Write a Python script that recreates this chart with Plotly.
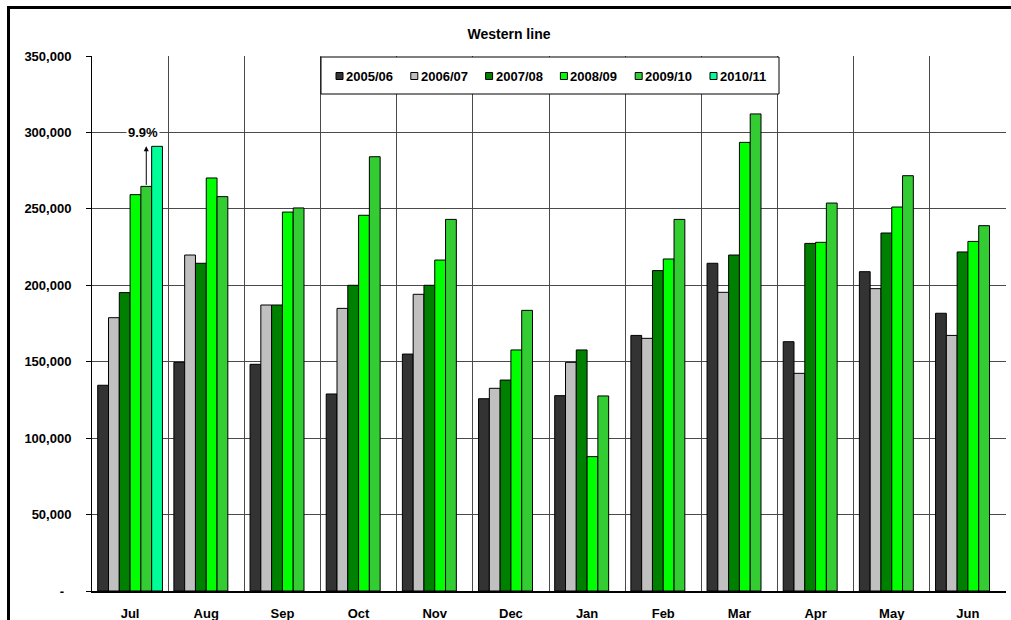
import plotly.graph_objects as go

# Monthly patronage, Western line
months = ["Jul", "Aug", "Sep", "Oct", "Nov", "Dec",
          "Jan", "Feb", "Mar", "Apr", "May", "Jun"]
seasons = ["2005/06", "2006/07", "2007/08", "2008/09", "2009/10", "2010/11"]

fy2005_06 = [134600, 149600, 148300, 128900, 155000, 125800,
             127800, 167200, 214400, 163100, 208900, 181700]
fy2006_07 = [178800, 219800, 187100, 184900, 194100, 132600,
             149600, 165300, 195400, 142400, 197800, 167200]
fy2007_08 = [195200, 214400, 187100, 200000, 200000, 138000,
             157700, 209600, 219800, 227400, 234200, 221800]
fy2008_09 = [259300, 270200, 247900, 245800, 216500, 157700,
             87900, 217200, 293500, 228100, 251200, 228700]
fy2009_10 = [264700, 258000, 250600, 284100, 243100, 183600,
             127600, 243100, 312100, 253800, 271700, 239000]
fy2010_11 = [290900, None, None, None, None, None,
             None, None, None, None, None, None]

y_tick_values = [0, 50000, 100000, 150000, 200000, 250000, 300000, 350000]
y_tick_labels = ["-\u00a0\u00a0" if v == 0 else f"{v:,}" for v in y_tick_values]

series = [fy2005_06, fy2006_07, fy2007_08, fy2008_09, fy2009_10, fy2010_11]
colors = ["#333333", "#C0C0C0", "#008000", "#00FF00", "#33CC33", "#00FF99"]

FONT = "Liberation Sans, Arial, sans-serif"
W, H = 1011, 620
L, T, R, B = 92, 56, 1006, 591   # plot area edges in pixels
BARGAP = 0.15
GRID = "#4a4a4a"


def px_x(x):
    return (x - L) / (R - L)


def px_y(y):
    return (B - y) / (B - T)


fig = go.Figure()
for name, vals, col in zip(seasons, series, colors):
    fig.add_bar(x=months, y=vals, name=name,
                marker=dict(color=col, line=dict(color="black", width=1)),
                showlegend=False)

# growth of the latest season over the previous one in July
prev_val, last_val = fy2009_10[0], fy2010_11[0]
growth = last_val / prev_val - 1
group_w = 1 - BARGAP
slot = group_w / len(seasons)
arrow_x = 0 - group_w / 2 + (4 + 0.5) * slot

annotations = [
    dict(x=arrow_x, y=last_val, ax=arrow_x, ay=prev_val,
         xref="x", yref="y", axref="x", ayref="y", text="",
         showarrow=True, arrowhead=2, arrowsize=1, arrowwidth=1,
         arrowcolor="black"),
    dict(x=arrow_x, y=300000, xref="x", yref="y", text=f"{growth:.1%}",
         showarrow=False, bgcolor="white", xshift=-3,
         font=dict(family=FONT, size=13, color="black", weight="bold")),
]

shapes = [
    # outer frame
    dict(type="rect", xref="paper", yref="paper",
         x0=px_x(8.5), x1=px_x(1040), y0=px_y(660), y1=px_y(7.5),
         line=dict(color="black", width=3), fillcolor="rgba(0,0,0,0)",
         layer="above"),
    # legend box
    dict(type="rect", xref="paper", yref="paper",
         x0=px_x(321), x1=px_x(779), y0=px_y(94), y1=px_y(57),
         line=dict(color="black", width=1), fillcolor="white",
         layer="above"),
]

step = 74.8
for i, (name, col) in enumerate(zip(seasons, colors)):
    mx = 336 + i * step
    shapes.append(dict(type="rect", xref="paper", yref="paper",
                       x0=px_x(mx), x1=px_x(mx + 7),
                       y0=px_y(79.5), y1=px_y(72.5),
                       line=dict(color="black", width=1), fillcolor=col,
                       layer="above"))
    annotations.append(dict(x=px_x(mx + 8), y=px_y(76), xref="paper",
                            yref="paper", xanchor="left", yanchor="middle",
                            text=name, showarrow=False,
                            font=dict(family=FONT, size=13, color="black",
                                      weight="bold")))

fig.update_layout(
    width=W, height=H,
    margin=dict(l=L, r=W - R, t=T, b=H - B, pad=0, autoexpand=False),
    barmode="group", bargap=BARGAP, bargroupgap=0,
    plot_bgcolor="white", paper_bgcolor="white",
    showlegend=False,
    font=dict(family=FONT, size=13, color="black", weight="bold"),
    title=dict(text="Western line", x=509 / W, y=1 - 34 / H,
               xref="container", yref="container",
               xanchor="center", yanchor="middle",
               font=dict(family=FONT, size=14, color="black", weight="bold")),
    xaxis=dict(type="category", range=[-0.5, len(months) - 0.5],
               automargin=False,
               showgrid=True, gridcolor=GRID, gridwidth=1,
               tickson="boundaries", ticks="",
               showline=True, linecolor="black", linewidth=2,
               ticklabelstandoff=9,
               tickfont=dict(family=FONT, size=13, color="black",
                             weight="bold")),
    xaxis2=dict(overlaying="x", anchor="y", side="bottom",
                automargin=False,
                range=[-0.5, len(months) - 0.5],
                tickmode="array", tickvals=list(range(len(months))),
                ticks="outside", ticklen=4, tickcolor="black", tickwidth=1,
                showticklabels=False, showgrid=False, zeroline=False,
                showline=False),
    yaxis=dict(range=[0, 350000], tickmode="array", automargin=False,
               tickvals=y_tick_values, ticktext=y_tick_labels,
               showgrid=True, gridcolor=GRID, gridwidth=1, zeroline=False,
               ticks="outside", ticklen=5, tickcolor="black",
               showline=True, linecolor="black", linewidth=1,
               ticklabelstandoff=12,
               tickfont=dict(family=FONT, size=13, color="black",
                             weight="bold")),
    shapes=shapes,
    annotations=annotations,
)

fig.write_html("out.html")
